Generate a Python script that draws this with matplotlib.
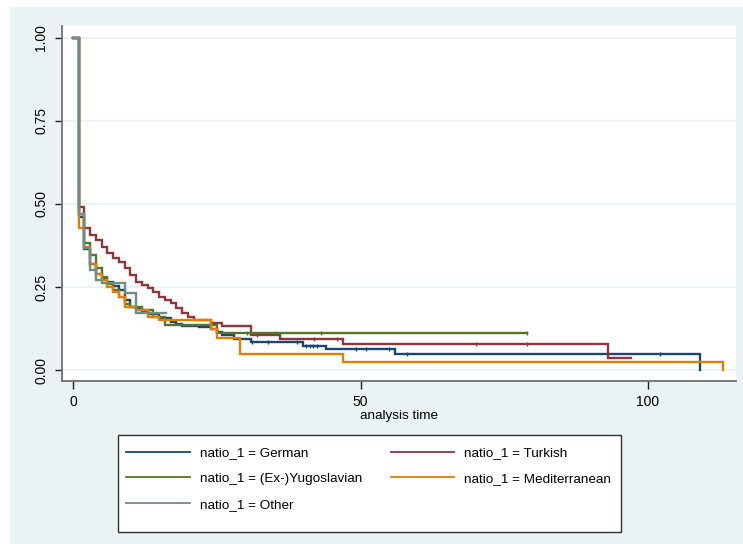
import matplotlib
matplotlib.use('Agg')
import matplotlib.pyplot as plt
from matplotlib.patches import Rectangle

plt.rcParams['font.family'] = ['Liberation Sans', 'DejaVu Sans']

# Kaplan-Meier step values (time at which the step starts, survival after step)
german_t = [0, 1, 2, 3, 4, 5, 6, 7, 8, 9, 10, 11, 12, 13, 15, 17, 18, 19, 22, 24, 25, 26, 28, 31, 40, 44, 56, 109]
german_s = [1.0, 0.46, 0.365, 0.32, 0.29, 0.275, 0.265, 0.253, 0.241, 0.21, 0.19, 0.186, 0.176, 0.168,
            0.156, 0.146, 0.139, 0.134, 0.131, 0.123, 0.116, 0.105, 0.093, 0.083, 0.073, 0.063, 0.048, 0.0]
german_cens = [31.2, 34, 38.9, 40.6, 41.2, 41.8, 42.4, 49.3, 51, 55, 58, 102]

turkish_t = [0, 1, 2, 3, 4, 5, 6, 7, 8, 9, 10, 11, 12, 13, 14, 15, 16, 17, 18, 19, 20, 21, 24, 26, 31, 36, 47, 93, 97]
turkish_s = [1.0, 0.49, 0.429, 0.407, 0.392, 0.371, 0.351, 0.336, 0.326, 0.306, 0.286, 0.266, 0.256, 0.246,
             0.236, 0.221, 0.211, 0.201, 0.186, 0.171, 0.161, 0.151, 0.142, 0.132, 0.107, 0.093, 0.077, 0.037, 0.037]
turkish_cens = [32, 42, 45.9, 70, 79]

yugo_t = [0, 1, 2, 3, 4, 5, 6, 7, 8, 9, 10, 12, 14, 16, 25, 79]
yugo_s = [1.0, 0.47, 0.383, 0.346, 0.307, 0.28, 0.26, 0.24, 0.22, 0.2, 0.19, 0.18, 0.16, 0.136, 0.113, 0.113]
yugo_cens = [30.2, 35.1, 43.1, 79]

medit_t = [0, 1, 2, 3, 4, 5, 6, 7, 8, 9, 11, 13, 15, 24, 25, 29, 47, 113]
medit_s = [1.0, 0.428, 0.37, 0.32, 0.29, 0.27, 0.25, 0.235, 0.22, 0.19, 0.18, 0.16, 0.15, 0.125, 0.095,
           0.048, 0.024, 0.0]
medit_cens = []

other_t = [0, 1, 2, 3, 4, 5, 9, 11, 16.2]
other_s = [1.0, 0.47, 0.367, 0.30, 0.27, 0.261, 0.231, 0.171, 0.171]
other_cens = []

series = [
    ('natio_1 = German', german_t, german_s, german_cens, '#1A476F'),
    ('natio_1 = Turkish', turkish_t, turkish_s, turkish_cens, '#90353B'),
    ('natio_1 = (Ex-)Yugoslavian', yugo_t, yugo_s, yugo_cens, '#55752F'),
    ('natio_1 = Mediterranean', medit_t, medit_s, medit_cens, '#E37E00'),
    ('natio_1 = Other', other_t, other_s, other_cens, '#6E8E84'),
]

bg = '#EAF2F3'
fig = plt.figure(figsize=(7.43, 5.44), dpi=100)
fig.patches.append(Rectangle((10 / 743, 0), 1, 1 - 7 / 544, transform=fig.transFigure,
                             facecolor=bg, edgecolor='none', zorder=-10))

ax = fig.add_axes([62 / 743, 1 - 381 / 544, (736 - 62) / 743, (381 - 26) / 544])
ax.set_facecolor('white')

handles = []
for label, t, s, cens, color in series:
    h, = ax.step(t, s, where='post', color=color, lw=1.7, label=label, solid_joinstyle='miter')
    handles.append(h)
    if cens:
        cs = []
        for c in cens:
            v = s[0]
            for ti, si in zip(t, s):
                if ti <= c:
                    v = si
            cs.append(v)
        ax.plot(cens, cs, ls='none', marker='|', ms=3.5, mew=1.0, color=color)

ax.set_xlim(-1.91, 115.3)
ax.set_ylim(-0.033, 1.036)
ax.set_xticks([0, 50, 100])
ax.set_yticks([0, 0.25, 0.5, 0.75, 1.0])
ax.set_yticklabels(['0.00', '0.25', '0.50', '0.75', '1.00'], rotation=90, va='center')
ax.grid(axis='y', color=bg, lw=1.4)
ax.set_axisbelow(True)
for sp in ['top', 'right']:
    ax.spines[sp].set_visible(False)
for sp in ['left', 'bottom']:
    ax.spines[sp].set_color('#707070')
    ax.spines[sp].set_linewidth(1.3)
ax.tick_params(axis='x', length=6, width=1, color='#202020', labelsize=10, pad=4)
ax.tick_params(axis='y', length=5, width=1, color='#202020', labelsize=10, pad=5)
ax.set_xlabel('analysis time', fontsize=9.7, labelpad=1)

# legend, filled row by row like the original (matplotlib fills columns)
order = [0, 2, 4, 1, 3]
fig.patches.append(Rectangle((118 / 743, 1 - 532 / 544), 503 / 743, 97 / 544, transform=fig.transFigure,
                             facecolor='white', edgecolor='#303030', lw=1.0, zorder=1))
leg = fig.legend(handles=[handles[i] for i in order], loc='upper left',
                 bbox_to_anchor=(126 / 743, 1 - 447 / 544),
                 ncol=2, frameon=False, fontsize=9.7, borderpad=0, borderaxespad=0,
                 handlelength=4.75, handletextpad=0.74, columnspacing=2.1, labelspacing=0.99)
leg.set_zorder(2)
for lh in leg.get_lines():
    lh.set_linewidth(1.3)

fig.savefig('out.png', dpi=100, facecolor='white')
